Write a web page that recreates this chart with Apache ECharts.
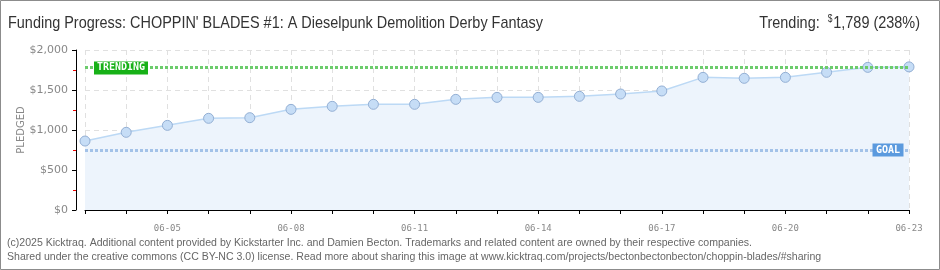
<!DOCTYPE html>
<html><head><meta charset="utf-8">
<script src="https://cdn.jsdelivr.net/npm/echarts@6/dist/echarts.min.js"></script>
<style>html,body{margin:0;padding:0;background:#fff}#c{width:940px;height:270px}</style>
</head><body><div id="c"></div>
<script>
const categories = ['06-03','06-04','06-05','06-06','06-07','06-08','06-09','06-10','06-11','06-12','06-13','06-14','06-15','06-16','06-17','06-18','06-19','06-20','06-21','06-22','06-23'];
const pledged = [862, 971, 1058, 1146, 1154, 1258, 1296, 1321, 1321, 1383, 1408, 1408, 1421, 1450, 1488, 1658, 1646, 1658, 1721, 1783, 1789];
const goal = 750;
const trending = 1789;
const yMin = 0, yMax = 2000, yStep = 500;
const titleText = "Funding Progress: CHOPPIN' BLADES #1: A Dieselpunk Demolition Derby Fantasy";
const trendLabel = 'Trending:', trendValue = '1,789 (238%)';
const footer1 = "(c)2025 Kicktraq. Additional content provided by Kickstarter Inc. and Damien Becton. Trademarks and related content are owned by their respective companies.";
const footer2 = "Shared under the creative commons (CC BY-NC 3.0) license. Read more about sharing this image at www.kicktraq.com/projects/bectonbectonbecton/choppin-blades/#sharing";

const tf = '"Liberation Sans",Arial,sans-serif';
const mc = document.createElement('canvas').getContext('2d');
function textW(t, size, fam) { mc.font = size + 'px ' + fam; return mc.measureText(t).width; }
const titleScale = 535 / textW(titleText, 17, tf);
const footScale = 745 / textW(footer1, 10.5, tf);

const chart = echarts.init(document.getElementById('c'), null, {renderer: 'canvas'});
chart.setOption({
  animation: false,
  backgroundColor: '#fff',
  graphic: [
    {type: 'rect', shape: {x: 0.5, y: 0.5, width: 939, height: 269}, style: {fill: 'none', stroke: '#8c8c8c', lineWidth: 1}, silent: true},
    {type: 'text', x: 8, y: 23, scaleX: titleScale, silent: true,
     style: {text: titleText, font: '17px ' + tf, fill: '#333', align: 'left', verticalAlign: 'middle'}},
    {type: 'text', x: 920, y: 23, scaleX: titleScale, silent: true,
     style: {text: '{a|' + trendLabel + '  }{s|$}{a|' + trendValue + '}', align: 'right', verticalAlign: 'middle',
       rich: {a: {fontFamily: tf, fontSize: 17, fill: '#333', color: '#333'},
              s: {fontFamily: tf, fontSize: 10, fill: '#333', color: '#333', verticalAlign: 'top', padding: [0, 1, 7, 0]}}}},
    {type: 'text', x: 7, y: 243, scaleX: footScale, silent: true,
     style: {text: footer1, font: '10.5px ' + tf, fill: '#666', align: 'left', verticalAlign: 'middle'}},
    {type: 'text', x: 7, y: 257, scaleX: footScale, silent: true,
     style: {text: footer2, font: '10.5px ' + tf, fill: '#666', align: 'left', verticalAlign: 'middle'}}
  ],
  grid: {left: 85, right: 31, top: 50, bottom: 60, containLabel: false},
  xAxis: {
    type: 'category', data: categories, boundaryGap: false, offset: 10,
    axisLine: {lineStyle: {color: '#000', width: 1}},
    axisTick: {show: true, interval: 0, length: 4, lineStyle: {color: '#000'}},
    axisLabel: {interval: (i) => (i - 2) % 3 === 0, color: '#888', fontSize: 9, margin: 4, fontFamily: '"DejaVu Sans Mono",monospace'},
    splitLine: {show: true, interval: 0, lineStyle: {color: '#e0e0e0', type: [5, 4]}}
  },
  yAxis: {
    type: 'value', min: yMin, max: yMax, interval: yStep, offset: 9,
    name: 'PLEDGED', nameLocation: 'middle', nameGap: 50, nameRotate: 90, nameMoveOverlap: false,
    nameTextStyle: {color: '#888', fontSize: 10, fontFamily: '"DejaVu Sans",sans-serif'},
    axisLine: {show: true, lineStyle: {color: '#000', width: 1}},
    axisTick: {show: true, length: 4, lineStyle: {color: '#000'}},
    minorTick: {show: true, splitNumber: 2, length: 3, lineStyle: {color: '#e00'}},
    axisLabel: {color: '#888', fontSize: 11, margin: 8, fontFamily: '"DejaVu Sans",sans-serif', formatter: (v) => '$' + v.toLocaleString('en-US')},
    splitLine: {show: true, lineStyle: {color: '#e0e0e0', type: [5, 4]}}
  },
  series: [{
    type: 'line', data: pledged,
    symbol: 'circle', symbolSize: 10,
    lineStyle: {color: '#bcd9f5', width: 1.5},
    itemStyle: {color: '#c6ddf6', borderColor: '#93afd4', borderWidth: 1},
    areaStyle: {color: '#edf4fc', opacity: 1},
    markLine: {
      silent: true, symbol: 'none', label: {show: false},
      data: [
        {yAxis: trending, lineStyle: {color: '#6ccc6c', width: 3, type: [3, 2]}},
        {yAxis: goal, lineStyle: {color: '#a3c2e8', width: 3, type: [3, 2]}}
      ]
    },
    markPoint: {
      silent: true,
      data: [
        {coord: [categories[0], trending], symbol: 'rect', symbolSize: [54, 13], symbolOffset: [36, 1],
         itemStyle: {color: '#17b117'}, label: {show: true, formatter: 'TRENDING', color: '#fff', fontSize: 10, fontWeight: 'bold', fontFamily: '"DejaVu Sans Mono",monospace'}},
        {coord: [categories[categories.length - 1], goal], symbol: 'rect', symbolSize: [31, 13], symbolOffset: [-21, 0],
         itemStyle: {color: '#5b9ade'}, label: {show: true, formatter: 'GOAL', color: '#fff', fontSize: 10, fontWeight: 'bold', fontFamily: '"DejaVu Sans Mono",monospace'}}
      ]
    }
  }]
});
</script></body></html>
